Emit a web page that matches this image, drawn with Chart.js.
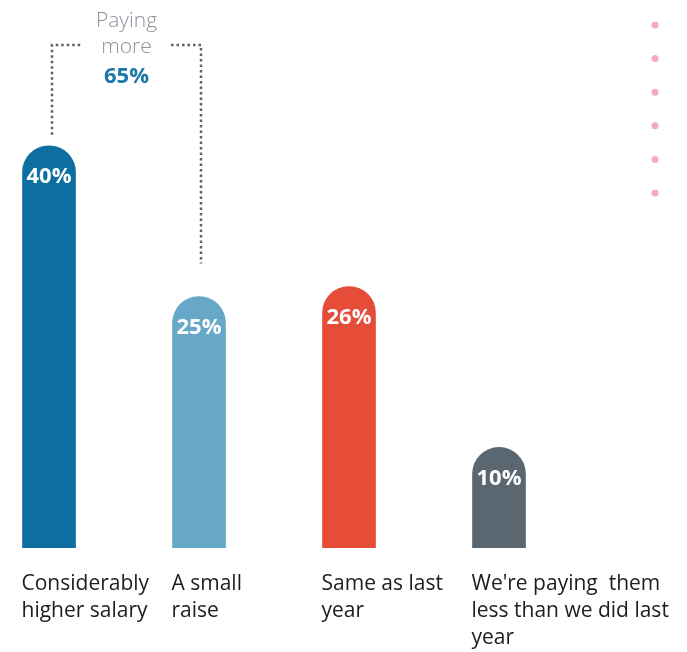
<!DOCTYPE html>
<html>
<head>
<meta charset="utf-8">
<script src="https://cdn.jsdelivr.net/npm/chart.js@4.4.1/dist/chart.umd.min.js"></script>
<style>
  html, body { margin: 0; padding: 0; background: #fff; overflow: hidden; }
  #wrap { position: relative; width: 687px; height: 652px; overflow: hidden; }
  #wrap canvas { position: absolute; left: -26px; top: 0; }
</style>
</head>
<body>
<div id="wrap"><canvas id="payChart" width="713" height="652"></canvas></div>
<script>
// ===== DATA =====
const categories = [
  ['Considerably', 'higher salary'],
  ['A small', 'raise'],
  ['Same as last', 'year'],
  ["We're paying  them", 'less than we did last', 'year']
];
const values = [40, 25, 26, 10];
const barColors = ['#0d6f9f', '#67a8c8', '#e54d39', '#5b6770'];
const bracketText = ['Paying', 'more'];
const payingMore = values[0] + values[1];

// ===== OVERLAY: labels, bracket, dots =====
const overlay = {
  id: 'overlay',
  afterDatasetsDraw(chart) {
    const ctx = chart.ctx;
    const area = chart.chartArea;
    const bars = chart.getDatasetMeta(0).data;
    ctx.save();

    // values inside the bar tops
    ctx.fillStyle = '#fff';
    ctx.font = 'bold 22px "Open Sans"';
    ctx.textAlign = 'center';
    ctx.textBaseline = 'middle';
    bars.forEach((bar, i) => ctx.fillText(values[i] + '%', bar.x, bar.y + 31));

    // category names under the bars
    ctx.fillStyle = '#1d1d1b';
    ctx.font = '21px "Open Sans"';
    ctx.textAlign = 'left';
    ctx.textBaseline = 'alphabetic';
    bars.forEach((bar, i) => {
      const left = bar.x - bar.width / 2 - 1;
      categories[i].forEach((line, j) => ctx.fillText(line, left, area.bottom + 42 + j * 27));
    });

    // dotted bracket joining the first two bars
    const lx = bars[0].x + 3, rx = bars[1].x + 2, top = 45;
    ctx.strokeStyle = '#5a6470';
    ctx.lineWidth = 2.5;
    ctx.setLineDash([2.5, 3]);
    ctx.beginPath();
    ctx.moveTo(lx, bars[0].y - 11);
    ctx.lineTo(lx, top);
    ctx.lineTo(lx + 30, top);
    ctx.moveTo(rx - 30, top);
    ctx.lineTo(rx, top);
    ctx.lineTo(rx, bars[1].y - 33);
    ctx.stroke();
    ctx.setLineDash([]);

    const mx = (lx + rx) / 2;
    ctx.textAlign = 'center';
    ctx.fillStyle = '#8a929b';
    ctx.font = '300 21px "Open Sans"';
    bracketText.forEach((t, j) => ctx.fillText(t, mx, 27 + j * 26));
    ctx.fillStyle = '#1a78a8';
    ctx.font = 'bold 22px "Open Sans"';
    ctx.fillText(payingMore + '%', mx, 83);

    // pink dot column on the right
    ctx.fillStyle = '#f4a9c9';
    for (let k = 0; k < 6; k++) {
      ctx.beginPath();
      ctx.arc(chart.width - 32, 25 + k * 33.6, 3.5, 0, Math.PI * 2);
      ctx.fill();
    }
    ctx.restore();
  }
};

// ===== BAR CHART =====
new Chart(document.getElementById('payChart'), {
  type: 'bar',
  data: {
    labels: categories,
    datasets: [{
      data: values,
      backgroundColor: barColors,
      barThickness: 53,
      borderRadius: { topLeft: 27, topRight: 27, bottomLeft: 0, bottomRight: 0 },
      borderSkipped: 'start'
    }]
  },
  options: {
    responsive: false,
    animation: false,
    layout: { padding: { left: 0, right: 113, top: 0, bottom: 104 } },
    plugins: { legend: { display: false }, tooltip: { enabled: false } },
    scales: {
      x: { display: false },
      y: { display: false, min: 0, max: 54.5 }
    }
  },
  plugins: [overlay]
});
</script>
</body>
</html>
